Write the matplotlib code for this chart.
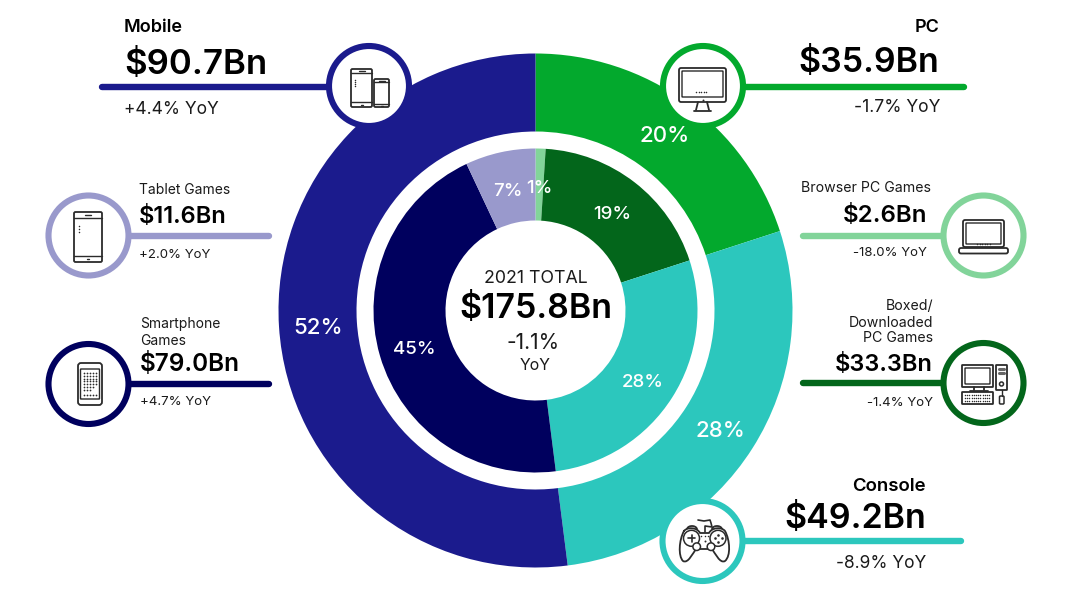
import matplotlib.pyplot as plt
from matplotlib.patches import Circle, FancyBboxPatch, PathPatch
from matplotlib.path import Path

# Shares of the 2021 total, in percent, clockwise from twelve o'clock
main_names = ["PC", "Console", "Mobile"]
main_shares = [20, 28, 52]
sub_names = ["Browser PC Games", "Boxed/Downloaded PC Games", "Console", "Smartphone Games", "Tablet Games"]
sub_shares = [1, 19, 28, 45, 7]
total = 175.8

main_colors = ["#03a92d", "#2cc7bd", "#1b1b8d"]
sub_colors = ["#82d49a", "#03661b", "#2cc7bd", "#00005e", "#9999cc"]

main_label_pos = [(665, 136), (720, 431), (318, 328)]
sub_label_pos = [(539, 188.5), (612, 214.5), (643, 382.5), (414, 349.5), (508, 191.5)]

W, H = 1073, 589
CX, CY = 535.5, 310.5
INK = "#2b2b2b"

plt.rcParams["font.family"] = ["Inter", "DejaVu Sans"]

fig = plt.figure(figsize=(W / 100, H / 100), dpi=100)
ax = fig.add_axes([0, 0, 1, 1])


def Y(y):
    return H - y


def txt(x, y, s, size, ha="left", weight="normal", color="#1a1a1a"):
    ax.text(x, Y(y), s, fontsize=size, ha=ha, va="baseline", fontweight=weight, color=color, zorder=10)


def rrect(x0, y0, x1, y1, r=2, lw=1.3, fc="none", ec=INK):
    ax.add_patch(FancyBboxPatch((x0 + r, Y(y1) + r), x1 - x0 - 2 * r, y1 - y0 - 2 * r,
                                boxstyle=f"round,pad={r},rounding_size={r}",
                                fc=fc, ec=ec, lw=lw, zorder=8))


def seg(x0, y0, x1, y1, lw=1.3, color=INK):
    ax.plot([x0, x1], [Y(y0), Y(y1)], color=color, lw=lw, solid_capstyle="round", zorder=8)


def dots(xs, y, s=1.2):
    ax.scatter(xs, [Y(y)] * len(xs), s=s, color=INK, lw=0, zorder=8)


def ring(x, y, r, lw=1.2, z=8):
    ax.add_patch(Circle((x, Y(y)), r, fc="white", ec=INK, lw=lw, zorder=z))


def badge(cx, cy, color):
    ax.add_patch(Circle((cx, Y(cy)), 40, fc="white", ec=color, lw=4.4, zorder=6))


def rule(x0, x1, y, color):
    ax.plot([x0, x1], [Y(y), Y(y)], color=color, lw=4.6, solid_capstyle="round", zorder=5)


def phone(x0, y0, x1, y1, top=4, bot=5):
    rrect(x0, y0, x1, y1, r=1.5)
    seg(x0, y0 + top, x1, y0 + top, lw=1)
    seg(x0, y1 - bot, x1, y1 - bot, lw=1)
    seg((x0 + x1) / 2 - 3, y0 + top / 2, (x0 + x1) / 2 + 3, y0 + top / 2, lw=1)
    seg((x0 + x1) / 2 - 1, y1 - bot / 2, (x0 + x1) / 2 + 1, y1 - bot / 2, lw=1)


def curve(points, codes, lw=1.3, fc="none", z=8):
    verts = [(x, Y(y)) for x, y in points]
    ax.add_patch(PathPatch(Path(verts, codes), fc=fc, ec=INK, lw=lw, capstyle="round", joinstyle="round", zorder=z))


# Two concentric donuts
ax.pie(main_shares, colors=main_colors, startangle=90, counterclock=False,
       center=(CX, Y(CY)), radius=257, wedgeprops=dict(width=78, lw=0), frame=False)
ax.pie(sub_shares, colors=sub_colors, startangle=90, counterclock=False,
       center=(CX, Y(CY)), radius=162, wedgeprops=dict(width=72, lw=0), frame=False)

for v, (x, y) in zip(main_shares, main_label_pos):
    ax.text(x, Y(y), f"{v}%", fontsize=16, color="white", ha="center", va="center",
            fontweight="medium", zorder=4)
for v, (x, y) in zip(sub_shares, sub_label_pos):
    ax.text(x, Y(y), f"{v}%", fontsize=13.5, color="white", ha="center", va="center",
            fontweight="medium", zorder=4)

# Centre of the ring
txt(CX, 283, "2021 TOTAL", 12.8, ha="center")
txt(CX, 318, f"${total}Bn", 24.4, ha="center", weight="semibold", color="black")
txt(CX - 2, 349, "-1.1%", 15, ha="center")
txt(CX, 370, "YoY", 11.5, ha="center")

# Connector rules and icon rings
rule(102, 330, 87, main_colors[2])
rule(130, 269, 236, sub_colors[4])
rule(130, 269, 384, sub_colors[3])
rule(745, 964, 87, main_colors[0])
rule(803, 943, 236, sub_colors[0])
rule(803, 943, 383, sub_colors[1])
rule(745, 961, 541, main_colors[1])

badge(369, 86, main_colors[2])
badge(88.5, 235.5, sub_colors[4])
badge(88.5, 384, sub_colors[3])
badge(703, 86, main_colors[0])
badge(983.5, 235.5, sub_colors[0])
badge(983.5, 383, sub_colors[1])
badge(702.5, 541, main_colors[1])

# Mobile icon
phone(351, 69, 372, 107)
phone(374, 79, 389, 107, top=3, bot=3)
for yy in (80, 82, 84, 86):
    dots([354.5], yy)

# Tablet games icon
phone(74, 212, 102, 262, top=6, bot=6)
for yy in (226, 229, 232):
    dots([79], yy)

# Smartphone games icon
rrect(78, 363, 102, 405, r=3)
rrect(80.5, 369, 99.5, 399, r=0.5, lw=1)
for row, n in enumerate([5, 5, 5, 5, 5, 4, 3]):
    dots([84 + 3 * i for i in range(n)], 373 + 2.8 * row, s=1.6)
dots([84 + 3 * i for i in range(5)], 395, s=1.6)

# PC monitor icon
rrect(679, 68, 726, 102, r=2)
rrect(682, 71, 723, 97, r=0.5, lw=1)
dots([696 + 2.5 * i for i in range(5)], 92)
dots([702.5], 99.5, s=2)
seg(698, 102, 696, 110)
seg(707, 102, 709, 110)
seg(694, 110.5, 711, 110.5)

# Laptop icon
rrect(963, 220, 1004, 247, r=2)
rrect(966, 223, 1001, 244, r=0.5, lw=1)
dots([977 + 2.5 * i for i in range(6)], 244)
rrect(959, 248, 1008, 253.5, r=2)

# Desktop computer icon
rrect(962, 365, 993, 387, r=0.5)
rrect(965, 368, 990, 384, r=0.5, lw=1)
seg(974, 387, 974, 390)
seg(984, 387, 984, 390)
seg(970, 390.5, 988, 390.5)
rrect(962, 392, 993, 404, r=0.5)
for r_ in range(3):
    dots([965 + 2.2 * i for i in range(12)], 395 + 3 * r_, s=1.1)
rrect(996, 365, 1007, 390, r=0.5)
seg(999, 369, 1004, 369, lw=2.2, color="#666666")
seg(999, 373, 1004, 373, lw=2.2, color="#666666")
ring(1001.5, 384, 2, lw=1.1)
rrect(999.5, 396, 1004, 404, r=1, lw=1.1)
seg(1001.8, 390, 1001.8, 396, lw=1)

# Game controller icon
M, C, L = Path.MOVETO, Path.CURVE4, Path.LINETO
curve([(687, 529), (688, 525), (696, 525), (697, 529)], [M, C, C, C])
curve([(712, 529), (713, 525), (721, 525), (722, 529)], [M, C, C, C])
curve([(684, 531), (679, 540), (678, 556), (683, 561),
       (688, 564), (693, 553), (696, 549),
       (712, 549),
       (715, 553), (720, 564), (725, 561),
       (731, 556), (730, 540), (725, 531),
       (722, 527), (712, 527), (709, 533),
       (700, 533),
       (697, 527), (687, 527), (684, 531)],
      [M, C, C, C, C, C, C, L, C, C, C, C, C, C, C, C, C, L, C, C, C], fc="white")
ring(691.5, 538.3, 8, lw=1.1)
ring(718, 538.3, 8, lw=1.1)
ring(696.7, 546.7, 3.8, lw=1.1, z=9)
ring(711, 546.7, 3.8, lw=1.1, z=9)
seg(688, 538.3, 695, 538.3, lw=1.2)
seg(691.5, 535, 691.5, 541.8, lw=1.2)
ax.scatter([718, 718, 714.5, 721.5], [Y(535), Y(541.5), Y(538.3), Y(538.3)], s=3.5, color=INK, lw=0, zorder=9)
dots([701, 704.5, 708], 536)
dots([704.5], 541, s=2)
curve([(705, 532), (705, 526), (712, 527), (711, 523), (710, 520), (704, 521), (698, 520)],
      [M, L, L, L, L, L, L], lw=1.2)

# Left side callouts
txt(124, 32, "Mobile", 13, weight="semibold", color="black")
txt(124, 74, "$90.7Bn", 25, weight="semibold", color="black")
txt(124, 114, "+4.4% YoY", 12.5)

txt(139, 194, "Tablet Games", 10)
txt(139, 223, "$11.6Bn", 17, weight="semibold", color="black")
txt(139, 258, "+2.0% YoY", 9.5)

txt(140, 328, "Smartphone", 10)
txt(140, 345, "Games", 10)
txt(140, 371, "$79.0Bn", 17.5, weight="semibold", color="black")
txt(140, 405, "+4.7% YoY", 9.5)

# Right side callouts
txt(939, 32, "PC", 13, ha="right", weight="semibold", color="black")
txt(939, 72, "$35.9Bn", 24.4, ha="right", weight="semibold", color="black")
txt(940, 112, "-1.7% YoY", 12.6, ha="right")

txt(931, 192, "Browser PC Games", 10.2, ha="right")
txt(927, 222, "$2.6Bn", 17.3, ha="right", weight="semibold", color="black")
txt(927, 256, "-18.0% YoY", 9.5, ha="right")

txt(933, 310, "Boxed/", 10.2, ha="right")
txt(933, 327, "Downloaded", 10.2, ha="right")
txt(933, 342, "PC Games", 10.2, ha="right")
txt(933, 371, "$33.3Bn", 17, ha="right", weight="semibold", color="black")
txt(933, 406, "-1.4% YoY", 9.5, ha="right")

txt(926, 491, "Console", 13.4, ha="right", weight="semibold", color="black")
txt(926, 528, "$49.2Bn", 24.5, ha="right", weight="semibold", color="black")
txt(926, 568, "-8.9% YoY", 12.5, ha="right")

ax.set_xlim(0, W)
ax.set_ylim(0, H)
ax.axis("off")

fig.savefig("out.png", dpi=100, facecolor="white")
